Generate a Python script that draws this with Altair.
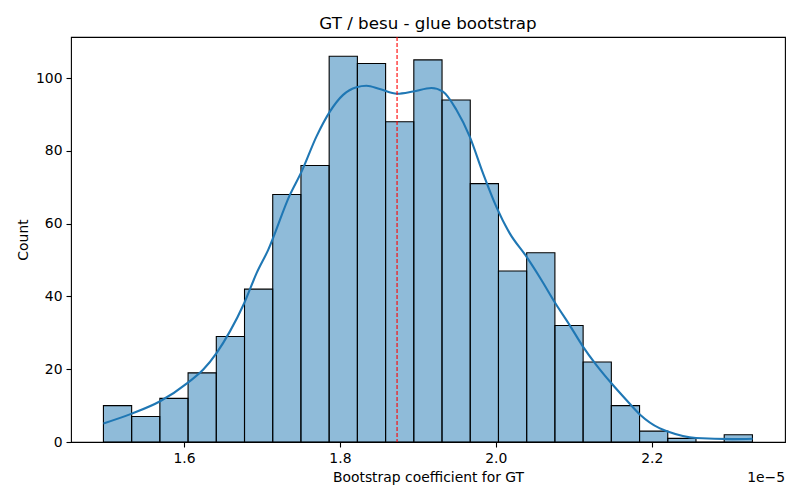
# -*- coding: utf-8 -*-
import altair as alt
import pandas as pd

# histogram bins, x values in units of 1e-5
bin_start = [1.4966, 1.5328, 1.5690, 1.6052, 1.6414, 1.6776, 1.7138, 1.7500,
             1.7862, 1.8224, 1.8586, 1.8948, 1.9310, 1.9672, 2.0034, 2.0396,
             2.0758, 2.1120, 2.1482, 2.1844, 2.2206, 2.2568, 2.2930]
bin_width = 0.03621
counts = [10, 7, 12, 19, 29, 42, 68, 76, 106, 104, 88, 105, 94, 71, 47, 52,
          32, 22, 10, 3, 1, 0, 2]

# kde curve (x in 1e-5, y in counts)
kde_x = [1.4966, 1.5330, 1.5693, 1.6055, 1.6247, 1.6419, 1.6589, 1.6773,
         1.6931, 1.7080, 1.7358, 1.7508, 1.7700, 1.7871, 1.8041, 1.8213,
         1.8341, 1.8511, 1.8733, 1.8938, 1.9174, 1.9322, 1.9494, 1.9664,
         1.9835, 2.0006, 2.0177, 2.0391, 2.0583, 2.0762, 2.0945, 2.1116,
         2.1288, 2.1480, 2.1672, 2.1851, 2.2099, 2.2205, 2.2569, 2.3038,
         2.3294]
kde_y = [5.1, 7.8, 11.2, 16.4, 19.9, 24.5, 30.4, 38.2, 46.4, 52.8, 67.9,
         74.3, 84.0, 90.8, 95.4, 97.5, 97.9, 97.0, 95.7, 96.3, 97.3, 96.3,
         91.3, 84.0, 73.9, 64.7, 57.4, 51.0, 44.6, 38.2, 32.2, 26.3, 21.2,
         16.2, 11.6, 7.5, 3.8, 2.9, 1.1, 0.8, 0.9]

mean_value = 1.8733

x_ticks = [1.6, 1.8, 2.0, 2.2]
y_ticks = [0, 20, 40, 60, 80, 100]

W, H = 714, 405
FONT = "DejaVu Sans"

bars = pd.DataFrame({
    "start": bin_start,
    "end": [s + bin_width for s in bin_start],
    "count": counts,
})
kde = pd.DataFrame({"x": kde_x, "y": kde_y})
mean_df = pd.DataFrame({"x": [mean_value]})

x_scale = alt.Scale(domain=[1.4550, 2.3710], nice=False, zero=False)
y_scale = alt.Scale(domain=[0, 111.3], nice=False)

x_axis = alt.Axis(values=x_ticks, format=".1f", title="Bootstrap coefficient for GT",
                  titlePadding=6)
y_axis = alt.Axis(values=y_ticks, title="Count", titlePadding=5)

hist = alt.Chart(bars).mark_rect(
    fill="#1f77b4", fillOpacity=0.5, stroke="black", strokeWidth=1.1
).encode(
    x=alt.X("start:Q", scale=x_scale, axis=x_axis),
    x2="end:Q",
    y=alt.Y("count:Q", scale=y_scale, axis=y_axis),
    y2=alt.datum(0),
)

line = alt.Chart(kde).mark_line(
    color="#1f77b4", strokeWidth=2.1, interpolate="monotone"
).encode(
    x=alt.X("x:Q", scale=x_scale),
    y=alt.Y("y:Q", scale=y_scale),
)

rule = alt.Chart(mean_df).mark_rule(
    color="red", strokeWidth=1.1, strokeDash=[4, 2]
).encode(x=alt.X("x:Q", scale=x_scale))

offset = alt.Chart(pd.DataFrame({"t": ["1e\u22125"]})).mark_text(
    align="right", baseline="middle", font=FONT, fontSize=13.9, color="black"
).encode(x=alt.value(W), y=alt.value(H + 36), text="t:N")

chart = alt.layer(hist, line, rule, offset).properties(
    width=W, height=H,
    title=alt.TitleParams("GT / besu - glue bootstrap", font=FONT, fontSize=16.7,
                          fontWeight="normal", color="black", anchor="middle",
                          offset=4),
    autosize=alt.AutoSizeParams(type="none"),
    padding={"left": 63, "top": 29, "right": 6, "bottom": 50},
).configure_view(
    stroke="black", strokeWidth=1.1
).configure_axis(
    grid=False, domain=False, tickColor="black", tickSize=5, tickWidth=1.1,
    labelFont=FONT, labelFontSize=13.9, labelColor="black", labelPadding=4,
    titleFont=FONT, titleFontSize=13.9, titleColor="black", titleFontWeight="normal",
)

chart.save("out.html", embed_options={"renderer": "svg", "actions": False})
